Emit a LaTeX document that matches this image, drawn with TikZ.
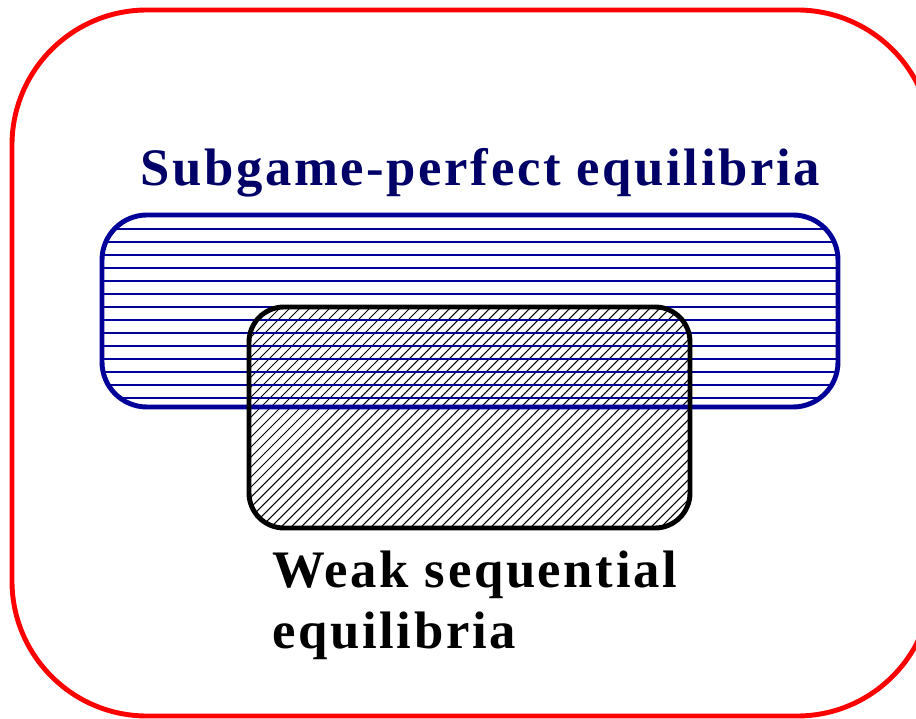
\documentclass[tikz,border=0pt]{standalone}
\usepackage{fontspec}
\setmainfont{Liberation Serif}
\usepackage{xcolor}
\usepackage{tikz}
\usetikzlibrary{positioning}

\definecolor{spnavy}{HTML}{000066}
\definecolor{spblue}{HTML}{000099}

\begin{document}
\begin{tikzpicture}[x=0.02cm, y=-0.02cm,
  setlabel/.style={inner sep=0pt, align=left,
    font=\fontsize{30}{34.7}\selectfont\bfseries\addfontfeatures{LetterSpace=5}},
  spehatch/.style={spblue, line width=0.8pt},
  wsehatch/.style={black, line width=0.6pt},
  setborder/.style={line width=2.8pt}]

% Рамка
\useasboundingbox (0,0) rectangle (916,719);
\clip (0,0) rectangle (916,719);
\draw[setborder, red, rounded corners=2.7cm] (12,10) rectangle (932,716);

% Штриховка: слабые последовательные равновесия
\begin{scope}
  \clip[rounded corners=0.7cm] (249,307) rectangle (690,528);
  \foreach \c in {20,30,...,700} {
    \draw[wsehatch] (\c,528) -- ++(240,-240);
  }
\end{scope}

% Штриховка: совершенные в подыграх
\begin{scope}
  \clip[rounded corners=0.9cm] (102,215) rectangle (838,407);
  \foreach \y in {229,242,...,400} {
    \draw[spehatch] (102,\y) -- (838,\y);
  }
\end{scope}

% Контуры множеств
\draw[setborder, spblue, rounded corners=0.9cm] (102,215) rectangle (838,407);
\draw[setborder, black, rounded corners=0.7cm] (249,307) rectangle (690,528);

% Подписи
\node[setlabel, text=spnavy, anchor=base west] (spe) at (140,186)
  {Subgame-perfect equilibria};
\node[setlabel, text=black, anchor=base west] (wse) at (272,648)
  {Weak sequential\\equilibria};

\end{tikzpicture}
\end{document}
